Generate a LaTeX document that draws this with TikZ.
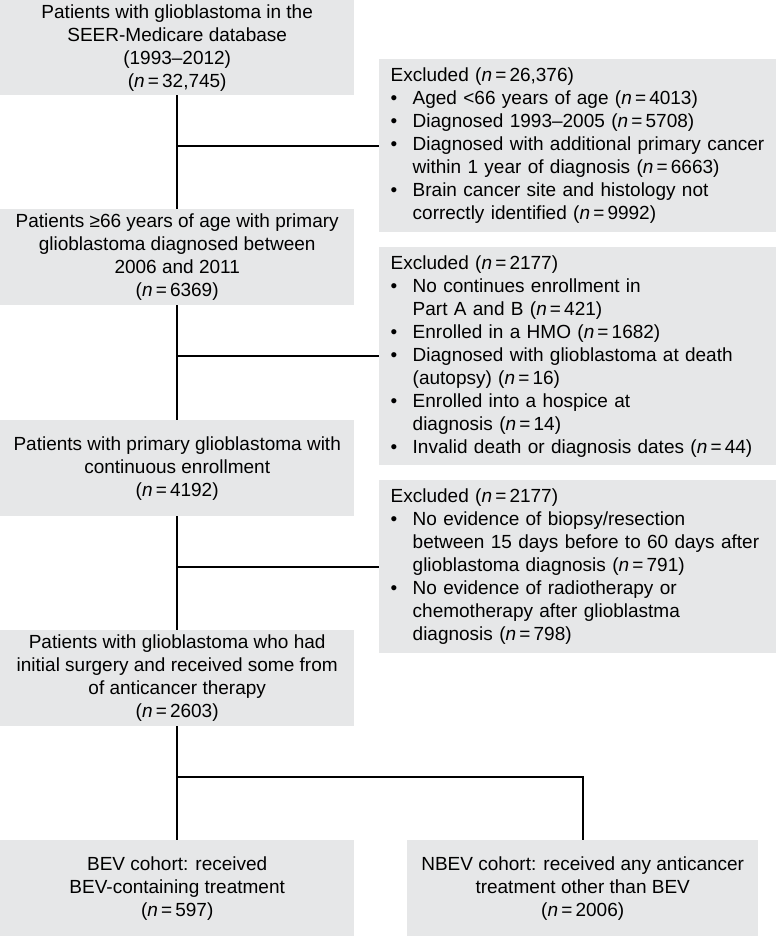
\documentclass[tikz,border=0pt]{standalone}
\usepackage{fontspec}
\setmainfont{Liberation Sans}
\usetikzlibrary{positioning}
\definecolor{boxgray}{RGB}{230,231,232}
\newcommand{\boxfont}{\fontsize{19pt}{23pt}\selectfont}
\newcommand{\nval}{\textit{n}\,=\,}
\newcommand{\bul}{\makebox[22pt][l]{\textbullet}}
\newcommand{\ind}{\hspace*{22pt}}

\begin{document}
\begin{tikzpicture}[x=1pt, y=-1pt,
    stage/.style={fill=boxgray, inner sep=0pt, minimum width=354pt, minimum height=96pt,
        align=center, anchor=north west, font=\boxfont},
    exclbox/.style={fill=boxgray, inner xsep=11.5pt, inner ysep=0pt, text width=374pt,
        align=left, anchor=north west, font=\boxfont},
    link/.style={line width=2pt}]
        \useasboundingbox[fill=white] (0,0) rectangle (776,936);

        \node[stage, minimum height=95pt] (pop) at (0,0) {Patients with glioblastoma in the\\ SEER-Medicare database\\ (1993--2012)\\ (\nval 32,745)};
        \node[stage] (aged) at (0,209) {Patients ≥66 years of age with primary\\ glioblastoma diagnosed between\\ 2006 and 2011\\ (\nval 6369)};
        \node[stage] (enrol) at (0,420) {Patients with primary glioblastoma with\\ continuous enrollment\\ (\nval 4192)};
        \node[stage] (treat) at (0,630) {Patients with glioblastoma who had\\ initial surgery and received some from\\ of anticancer therapy\\ (\nval 2603)};
        \node[stage] (bev) at (0,840) {BEV cohort: received\\ BEV-containing treatment\\ (\nval 597)};
        \node[stage, minimum width=351pt] (nbev) at (407,840) {NBEV cohort: received any anticancer\\ treatment other than BEV\\ (\nval 2006)};

        \node[exclbox, minimum height=173pt] (exa) at (379,59) {Excluded (\nval 26,376)\\
            \bul Aged <66 years of age (\nval 4013)\\
            \bul Diagnosed 1993--2005 (\nval 5708)\\
            \bul Diagnosed with additional primary cancer\\
            \ind within 1 year of diagnosis (\nval 6663)\\
            \bul Brain cancer site and histology not\\
            \ind correctly identified (\nval 9992)};
        \node[exclbox, minimum height=218pt] (exb) at (379,247) {Excluded (\nval 2177)\\
            \bul No continues enrollment in\\
            \ind Part A and B (\nval 421)\\
            \bul Enrolled in a HMO (\nval 1682)\\
            \bul Diagnosed with glioblastoma at death\\
            \ind (autopsy) (\nval 16)\\
            \bul Enrolled into a hospice at\\
            \ind diagnosis (\nval 14)\\
            \bul Invalid death or diagnosis dates (\nval 44)};
        \node[exclbox, minimum height=173pt] (exc) at (379,480) {Excluded (\nval 2177)\\
            \bul No evidence of biopsy/resection\\
            \ind between 15 days before to 60 days after\\
            \ind glioblastoma diagnosis (\nval 791)\\
            \bul No evidence of radiotherapy or\\
            \ind chemotherapy after glioblastma\\
            \ind diagnosis (\nval 798)};

        \coordinate (fork) at (treat.south |- 0,777);

        \draw[link] (pop) to (aged)
            (aged) to (enrol)
            (enrol) to (treat)
            (treat) to (bev);
        \draw[link] (exa.west -| pop.south) to (exa.west)
            (exb.west -| aged.south) to (exb.west)
            (exc.west -| enrol.south) to (exc.west);
        \draw[link] (fork) -| (nbev.north);
    \end{tikzpicture}
\end{document}
